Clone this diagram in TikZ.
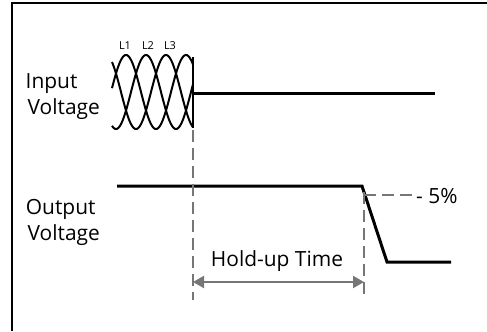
\documentclass[tikz,border=0pt]{standalone}
\usepackage{fontspec}
\setmainfont{Open Sans}
\usetikzlibrary{arrows.meta}
\definecolor{dimline}{RGB}{118,118,118}
\begin{document}
\begin{tikzpicture}[x=1bp,y=-1bp,
  lbl/.style={inner sep=0pt, anchor=base west, font=\fontsize{21}{26}\selectfont},
  ctrlbl/.style={inner sep=0pt, anchor=base, font=\fontsize{21}{26}\selectfont},
  phaselbl/.style={inner sep=0pt, anchor=base, font=\fontsize{11}{13}\selectfont},
  sig/.style={line width=3bp, line join=miter},
  wave/.style={line width=2bp},
  guide/.style={draw=dimline, line width=2bp, dash pattern=on 12bp off 6bp},
  span/.style={draw=dimline, line width=2bp, {Triangle[length=11bp,width=12bp]}-{Triangle[length=11bp,width=12bp]}},
  frameline/.style={line width=1.5bp}]
\useasboundingbox (0,0) rectangle (487,331);

% frame (top and left only)
\coordinate (fbl) at (12,331);
\coordinate (ftl) at (12,3);
\coordinate (ftr) at (487,3);
\draw[frameline] (fbl) -- (ftl) -- (ftr);

% labels
\node[lbl] (in1) at (25.5,88) {Input};
\node[lbl] (in2) at (27.5,114) {Voltage};
\node[lbl] (out1) at (25.7,214) {Output};
\node[lbl] (out2) at (27.5,240) {Voltage};
\node[phaselbl] (l1) at (125,49) {L1};
\node[phaselbl] (l2) at (148,49) {L2};
\node[phaselbl] (l3) at (170,49) {L3};
\node[ctrlbl] (hold) at (277,266) {Hold-up Time};
\node[lbl] (pct) at (416,203) {- 5\%};

% three-phase input waves
\foreach \c in {126,146,166}{
  \draw[wave] plot[domain=112:193, samples=120, smooth] (\x, {92-37*cos(6*(\x-\c))});
}
\coordinate (cutT) at (193,57);
\coordinate (cutB) at (193,128);
\draw[wave] (cutT) -- (cutB);

% input DC level
\coordinate (inS) at (193,93);
\coordinate (inE) at (435,93);
\draw[sig] (inS) -- (inE);

% output voltage
\coordinate (oA) at (117,186);
\coordinate (oB) at (362,186);
\coordinate (oC) at (387,262);
\coordinate (oD) at (451,262);
\draw[sig] (oA) -- (oB) -- (oC) -- (oD);

% guides
\coordinate (g1T) at (193,130);
\coordinate (g1B) at (193,300);
\coordinate (g2T) at (364,192);
\coordinate (g2B) at (364,300);
\coordinate (g3L) at (364,195);
\coordinate (g3R) at (413,195);
\draw[guide] (g1T) -- (g1B);
\draw[guide] (g2T) -- (g2B);
\draw[guide] (g3L) -- (g3R);

% hold-up span
\coordinate (aL) at (193,282);
\coordinate (aR) at (364,282);
\draw[span] (aL) -- (aR);
\end{tikzpicture}
\end{document}
